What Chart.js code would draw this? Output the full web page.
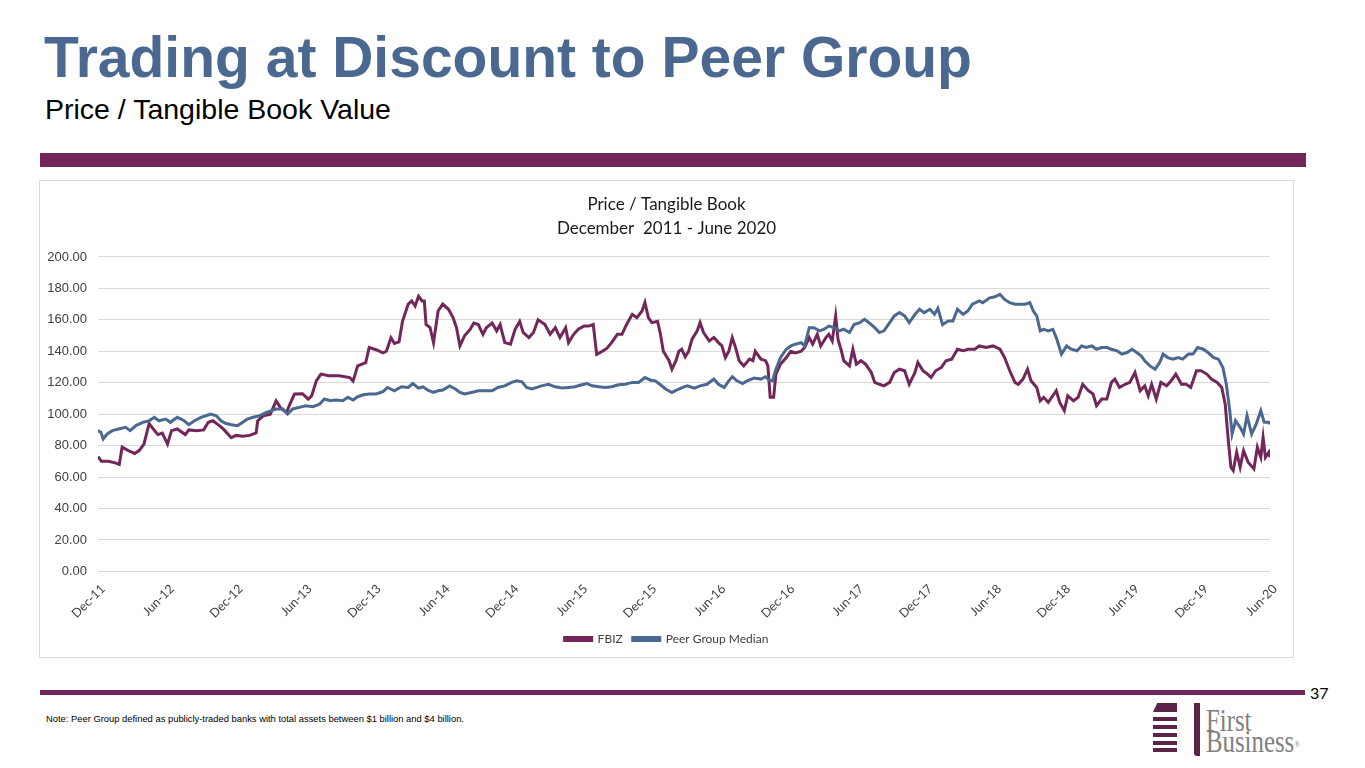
<!DOCTYPE html>
<html>
<head>
<meta charset="utf-8">
<script src="https://cdn.jsdelivr.net/npm/chart.js@4.4.1/dist/chart.umd.min.js"></script>
<style>
  html, body { margin: 0; padding: 0; background: #fff; }
  body { width: 1365px; height: 768px; position: relative; overflow: hidden; font-family: "Liberation Sans", Arial, sans-serif; }
  .title { position: absolute; left: 44px; top: 29px; font-size: 57px; line-height: 57px; font-weight: bold; color: #4b6891; white-space: nowrap; }
  .subtitle { position: absolute; left: 45px; top: 95px; font-size: 28.5px; line-height: 28px; color: #000; white-space: nowrap; }
  .bar-top { position: absolute; left: 40px; top: 153px; width: 1266px; height: 14px; background: #722659; }
  .chart-box { position: absolute; left: 39px; top: 180px; width: 1253px; height: 476px; border: 1px solid #d9d9d9; }
  .chart-box canvas { position: absolute; left: 0; top: 0; }
  .bar-bottom { position: absolute; left: 40px; top: 690px; width: 1265px; height: 5px; background: #722659; }
  .page { position: absolute; left: 1310px; top: 683px; font-family: Lato, sans-serif; font-size: 16px; line-height: 20px; color: #000; }
  .note { position: absolute; left: 46px; top: 714px; font-size: 9.4px; line-height: 9px; color: #000; white-space: nowrap; }
  .logo-bar { position: absolute; left: 1153px; width: 24px; background: #5b2347; }
  .logo-v { position: absolute; left: 1194px; top: 703px; width: 6px; height: 53px; background: #5b2347; border-radius: 0 0 0 3px; }
  .logo-text { position: absolute; left: 1206px; top: 710px; font-family: "Liberation Serif", "Times New Roman", serif; font-size: 31px; line-height: 21px; color: #808080; transform: scaleX(0.8); transform-origin: left top; }
  .logo-text sup { font-size: 9px; vertical-align: 5px; }
</style>
</head>
<body>
<div class="title">Trading at Discount to Peer Group</div>
<div class="subtitle">Price / Tangible Book Value</div>
<div class="bar-top"></div>
<div class="chart-box"><canvas id="chart" width="1253" height="476"></canvas></div>
<div class="bar-bottom"></div>
<div class="page">37</div>
<div class="note">Note: Peer Group defined as publicly-traded banks with total assets between $1 billion and $4 billion.</div>
<div class="logo-bar" style="top:703px;height:9px;clip-path:polygon(18% 0,100% 0,100% 100%,0 100%);"></div>
<div class="logo-bar" style="top:717px;height:4px;"></div>
<div class="logo-bar" style="top:725px;height:4px;"></div>
<div class="logo-bar" style="top:733px;height:4px;"></div>
<div class="logo-bar" style="top:741px;height:4px;"></div>
<div class="logo-bar" style="top:748px;height:4px;"></div>
<div class="logo-v"></div>
<div class="logo-text">First<br>Business<sup>®</sup></div>
<script>
// months since Dec-2011
const xTickLabels = ['Dec-11','Jun-12','Dec-12','Jun-13','Dec-13','Jun-14','Dec-14','Jun-15','Dec-15',
  'Jun-16','Dec-16','Jun-17','Dec-17','Jun-18','Dec-18','Jun-19','Dec-19','Jun-20'];

const fbizMonths = [0,0.3,0.9,1.5,1.85,2.1,2.6,3.2,3.6,4.0,4.45,4.7,5.2,5.6,6.05,6.4,6.9,7.6,7.9,8.6,9.2,9.6,10.0,10.5,10.9,
  11.6,12.0,12.6,13.2,13.76,13.9,14.4,15.0,15.5,15.9,16.4,16.7,17.1,17.8,18.3,18.6,19.0,19.4,20.1,21.0,21.9,22.2,22.6,23.3,
  23.6,24.2,24.8,25.1,25.5,25.8,26.2,26.5,27.0,27.3,27.6,27.9,28.2,28.4,28.55,28.9,29.2,29.6,30.0,30.5,30.9,31.2,31.5,31.9,
  32.4,32.7,33.1,33.5,33.8,34.3,34.7,35.0,35.4,35.9,36.3,36.7,37.0,37.5,37.9,38.3,38.9,39.35,39.8,40.2,40.7,40.95,41.4,41.8,
  42.3,42.7,43.1,43.4,43.9,44.3,44.7,45.2,45.6,46.0,46.5,46.9,47.35,47.6,47.9,48.2,48.7,48.95,49.2,49.7,49.95,50.3,50.55,
  50.8,51.1,51.4,51.7,52.15,52.4,52.7,53.2,53.6,54.0,54.3,54.6,54.9,55.2,55.5,55.8,56.2,56.7,57.0,57.2,57.7,58.1,58.3,58.5,
  58.8,59.0,59.4,59.9,60.3,60.7,61.2,61.5,61.9,62.2,62.6,62.9,63.35,63.6,63.9,64.2,64.4,64.7,64.9,65.4,65.7,66.0,66.4,66.8,
  67.3,67.6,68.0,68.4,68.9,69.3,69.75,70.2,70.6,71.1,71.35,71.8,72.2,72.5,72.9,73.4,73.8,74.3,74.8,75.3,75.7,76.3,76.7,77.3,
  77.9,78.5,78.9,79.35,79.8,80.1,80.5,80.9,81.2,81.7,82.0,82.3,82.7,83.1,83.4,83.7,84.1,84.4,84.9,85.3,85.7,86.2,86.6,86.9,
  87.35,87.8,88.2,88.5,88.9,89.4,89.8,90.25,90.7,91.1,91.4,91.7,92.1,92.5,93.0,93.4,93.8,94.3,94.7,95.1,95.6,96.0,96.5,96.9,
  97.4,97.8,98.1,98.4,98.6,98.8,99.1,99.4,99.7,100.1,100.6,100.9,101.2,101.4,101.6,101.9,102.0];
const fbizValues = [73,70,70,69,68,79,77,75,77,81,94,91.6,87,88,81,89.5,90.6,87,90,89.5,90,94.8,95.8,93,90.6,
  85,86.5,86,86.5,88,95.8,99,100,108.5,104,101,106.4,112.8,113,109.6,111.7,121.2,125.5,124.4,124.4,123.3,121,130.7,132.8,
  142.4,141,139,140,148.6,145,146,159,170,172,168.8,175,172,172,157,155,145.5,165.6,170,166.7,161.4,155,143.4,149.8,
  154,158,157,150.8,155,158,153,157,145.5,144.5,154,159,152,148.7,152,160,157,150.8,155,148.7,155,145.5,150.8,154,
  156,156,157,138,140,142,145.5,150.8,150.8,157,163.5,161.4,165.6,171,161.4,158.2,159,150.8,140,134,128.6,134,140,
  141.3,136.5,140,147.7,153,158.2,151.9,146.6,148.7,145.5,143.4,136,140,148.7,142,134,130.7,135,134,140,135,134,130.7,110.7,
  110.7,125.5,131.8,136,140,139,140,142.4,148.7,144.5,150.8,143.4,148.7,150.8,146.6,162.5,147.7,140.3,134,130.7,141.3,131.8,134,131.8,
  126.5,120.2,119,118,120.2,126.5,128.6,127.6,119,126.5,132.9,127.6,125.5,123.3,127.6,129.7,134,135,141.3,140.3,141.3,141.3,143.4,142.4,
  143.4,141.3,136,127.6,120.2,119,122.3,128.6,121.2,117,108.5,110.7,107.5,111.7,114.9,107.5,102.2,111.7,108.5,110.7,119,114.9,112.8,105.4,
  109.6,109.6,120.2,122.3,117,119,120.2,126.5,114.9,118,111.7,119,109.6,120.2,118,121.2,125.5,119,119,117,127.6,127.6,125.5,122.3,
  120.2,117,106.4,81,66.3,64.2,75.8,66.3,76.8,69.4,65.2,79,72.6,85.3,72.6,75.8,72.6];

const peerMonths = [0,0.25,0.45,0.8,1.25,1.8,2.4,2.8,3.3,3.9,4.45,4.9,5.3,5.9,6.3,6.9,7.5,7.9,8.4,8.96,9.4,9.8,10.3,10.7,
  11.1,11.6,12.15,12.6,13.0,13.5,14.05,14.6,15.1,15.5,16.1,16.5,16.95,17.5,18.1,18.7,19.3,19.7,20.2,20.7,21.3,21.75,22.2,
  22.6,23.1,23.6,24.2,24.8,25.2,25.8,26.4,27.0,27.4,27.9,28.3,28.7,29.2,29.6,30.0,30.6,31.1,31.5,31.9,32.5,33.1,33.7,34.3,
  34.8,35.4,36.0,36.45,36.9,37.3,37.75,38.2,38.6,39.2,39.8,40.4,40.95,41.5,42.1,42.55,43.0,43.6,44.15,44.7,45.3,45.9,46.5,
  47.05,47.6,48.1,48.5,48.95,49.4,49.95,50.55,51.0,51.3,51.9,52.4,53.0,53.6,54.0,54.5,54.9,55.2,55.6,56.1,56.5,57.1,57.7,
  58.1,58.4,58.7,59.0,59.4,59.9,60.3,60.7,61.2,61.5,61.9,62.3,62.8,63.2,63.6,64.1,64.5,64.9,65.4,65.8,66.3,66.7,67.1,67.6,
  68.0,68.4,68.9,69.3,69.75,70.2,70.6,71.1,71.5,71.9,72.4,72.8,73.1,73.5,74.0,74.4,74.8,75.3,75.7,76.1,76.7,77.0,77.6,78.0,
  78.5,78.9,79.35,79.8,80.2,80.7,81.1,81.4,81.7,82.0,82.3,82.7,83.1,83.4,83.85,84.3,84.7,85.2,85.6,86.0,86.5,86.9,87.35,
  87.8,88.2,88.7,89.1,89.55,90.0,90.4,90.8,91.1,91.55,92.0,92.4,92.7,93.1,93.55,94.0,94.4,94.9,95.3,95.7,96.2,96.6,97.1,
  97.5,97.9,98.2,98.5,98.7,99.0,99.4,99.7,100.0,100.4,100.8,101.2,101.5,101.9,102.0];
const peerValues = [89.5,88.5,84.2,87.4,89.5,90.6,91.6,89.5,92.7,94.8,95.8,98,95.8,96.9,94.8,98,95.8,93.3,95.8,98,99,100,99,95.8,
  94.2,93.3,92.7,94.8,96.9,98,99,101,102.2,103.3,103.3,100,103.3,104.3,105.4,104.7,106.4,109.6,108.5,109,108.5,110.7,109,
  111.1,112.3,112.8,112.8,114.3,117,114.9,117.4,117,119.5,116.6,117.4,115.3,113.8,114.9,115.3,118,116,113.8,112.8,113.8,114.9,114.9,114.9,
  117,118,120.2,121.2,120.6,117,116,117,118,119,117.4,116.6,117,117.4,118.7,119.5,118,117.4,117,117.4,118.7,119,120.2,
  120.2,123.3,121.6,121.2,118.7,116,113.8,116,117.4,118,116.6,118,119,122.3,119,117,121.2,123.8,121.2,119.5,121.2,123,122.3,
  123.8,121.6,121.2,128.6,136,141.3,143.4,144.5,145.5,143.4,155,155,153,154,156,155,153,154,151.9,157,158.2,160.3,158.2,155,
  151.9,153,158.2,162.5,164.6,162.5,158.2,163.5,166.7,164.6,166.7,163.5,167.3,157,159.3,159.3,166.7,163.5,165.6,169.9,172,170.9,174,174.5,
  176.2,173,170.9,169.9,169.9,169.9,170.9,165.6,162.5,153,154,153,154,148.7,138.2,143.4,141.3,140.3,143.4,142.4,143.4,141.3,142.4,
  142.4,141.3,140.3,138.2,139.2,141.3,139.2,137,133.9,130.7,128.6,132.9,138.2,136,135,136,135,138.2,138.2,142.4,141.3,139.2,136,
  135,129.7,119,102.2,87.4,95.8,91.6,87.4,99,87.4,93.7,102.2,94.8,94.8,93.7];

const toPoints = (xs, ys) => xs.map((x, i) => ({ x: x, y: ys[i] }));

// let the y tick labels use the left padding (keeps title/legend centred on the box)
const yLabelRoom = {
  id: 'yLabelRoom',
  afterLayout(chart) { chart.scales.y.left = 0; }
};

const ctx = document.getElementById('chart').getContext('2d');
new Chart(ctx, {
  type: 'line',
  data: {
    datasets: [{
      label: 'FBIZ',
      data: toPoints(fbizMonths, fbizValues),
      borderColor: '#722659',
      backgroundColor: '#722659',
      borderWidth: 3,
      order: 1
    }, {
      label: 'Peer Group Median',
      data: toPoints(peerMonths, peerValues),
      borderColor: '#4b6990',
      backgroundColor: '#4b6990',
      borderWidth: 3,
      order: 0
    }]
  },
  options: {
    responsive: false,
    animation: false,
    parsing: false,
    elements: { point: { radius: 0 }, line: { tension: 0 } },
    layout: { padding: { left: 23, right: 23, top: 6, bottom: 2 } },
    plugins: {
      tooltip: { enabled: false },
      title: {
        display: true,
        text: ['Price / Tangible Book', 'December  2011 - June 2020'],
        font: { family: 'Lato', size: 17, weight: 'normal', lineHeight: 1.41 },
        color: '#1a1a1a',
        padding: { top: 6, bottom: 16 }
      },
      legend: {
        position: 'bottom',
        labels: {
          sort: (a, b) => a.datasetIndex - b.datasetIndex,
          boxWidth: 27,
          boxHeight: 3,
          padding: 10,
          color: '#404040',
          font: { family: 'Lato', size: 12 }
        }
      }
    },
    scales: {
      x: {
        type: 'linear',
        min: 0,
        max: 102,
        grid: { display: false },
        border: { display: false },
        ticks: {
          stepSize: 6,
          autoSkip: false,
          minRotation: 45,
          maxRotation: 45,
          padding: 2,
          labelOffset: 5,
          color: '#404040',
          font: { family: 'Lato', size: 12.5 },
          callback: (v) => xTickLabels[Math.round(v / 6)]
        }
      },
      y: {
        min: 0,
        max: 200,
        afterFit: (s) => { s.width = 35; },
        grid: { color: '#d9d9d9', lineWidth: 1, drawTicks: false },
        border: { display: false },
        ticks: {
          stepSize: 20,
          padding: 11,
          color: '#404040',
          font: { family: 'Liberation Sans', size: 13 },
          callback: (v) => v.toFixed(2)
        }
      }
    }
  },
  plugins: [yLabelRoom]
});
</script>
</body>
</html>
